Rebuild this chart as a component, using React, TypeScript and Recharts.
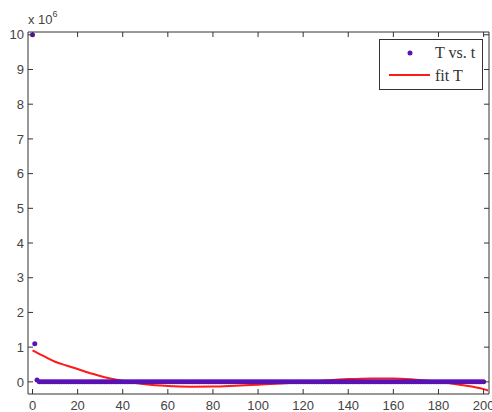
import React from "react";
import {
  ComposedChart, Scatter, Line, XAxis, YAxis, ReferenceArea, Legend,
} from "recharts";

// sample times
const sampleT = [
  0, 1, 2, 3, 4, 5, 6, 7, 8, 9, 10, 11, 12, 13, 14, 15, 16, 17, 18, 19,
  20, 21, 22, 23, 24, 25, 26, 27, 28, 29, 30, 31, 32, 33, 34, 35, 36, 37, 38, 39,
  40, 41, 42, 43, 44, 45, 46, 47, 48, 49, 50, 51, 52, 53, 54, 55, 56, 57, 58, 59,
  60, 61, 62, 63, 64, 65, 66, 67, 68, 69, 70, 71, 72, 73, 74, 75, 76, 77, 78, 79,
  80, 81, 82, 83, 84, 85, 86, 87, 88, 89, 90, 91, 92, 93, 94, 95, 96, 97, 98, 99,
  100, 101, 102, 103, 104, 105, 106, 107, 108, 109, 110, 111, 112, 113, 114, 115, 116, 117, 118, 119,
  120, 121, 122, 123, 124, 125, 126, 127, 128, 129, 130, 131, 132, 133, 134, 135, 136, 137, 138, 139,
  140, 141, 142, 143, 144, 145, 146, 147, 148, 149, 150, 151, 152, 153, 154, 155, 156, 157, 158, 159,
  160, 161, 162, 163, 164, 165, 166, 167, 168, 169, 170, 171, 172, 173, 174, 175, 176, 177, 178, 179,
  180, 181, 182, 183, 184, 185, 186, 187, 188, 189, 190, 191, 192, 193, 194, 195, 196, 197, 198, 199,
  200,
];

// measured T at each sample time
const measuredT = [
  10000000, 1100000, 50000, 0, 0, 0, 0, 0, 0, 0, 0, 0, 0, 0, 0, 0, 0, 0, 0, 0,
  0, 0, 0, 0, 0, 0, 0, 0, 0, 0, 0, 0, 0, 0, 0, 0, 0, 0, 0, 0,
  0, 0, 0, 0, 0, 0, 0, 0, 0, 0, 0, 0, 0, 0, 0, 0, 0, 0, 0, 0,
  0, 0, 0, 0, 0, 0, 0, 0, 0, 0, 0, 0, 0, 0, 0, 0, 0, 0, 0, 0,
  0, 0, 0, 0, 0, 0, 0, 0, 0, 0, 0, 0, 0, 0, 0, 0, 0, 0, 0, 0,
  0, 0, 0, 0, 0, 0, 0, 0, 0, 0, 0, 0, 0, 0, 0, 0, 0, 0, 0, 0,
  0, 0, 0, 0, 0, 0, 0, 0, 0, 0, 0, 0, 0, 0, 0, 0, 0, 0, 0, 0,
  0, 0, 0, 0, 0, 0, 0, 0, 0, 0, 0, 0, 0, 0, 0, 0, 0, 0, 0, 0,
  0, 0, 0, 0, 0, 0, 0, 0, 0, 0, 0, 0, 0, 0, 0, 0, 0, 0, 0, 0,
  0, 0, 0, 0, 0, 0, 0, 0, 0, 0, 0, 0, 0, 0, 0, 0, 0, 0, 0, 0,
  0,
];

// fitted curve
const fitTimes = [
  0, 5, 10, 15, 20, 25, 30, 35, 40, 50, 60, 70, 80, 90, 100, 110,
  120, 130, 140, 150, 160, 170, 180, 190, 200, 202,
];
const fitValues = [
  910000, 740000, 580000, 470000, 370000, 260000, 170000, 90000, 30000, -70000,
  -120000, -140000, -135000, -110000, -80000, -50000, -10000, 40000, 80000, 100000,
  100000, 60000, 0, -90000, -210000, -250000,
];

const xTicks = [0, 20, 40, 60, 80, 100, 120, 140, 160, 180, 200];
const yTicks = [0, 1e6, 2e6, 3e6, 4e6, 5e6, 6e6, 7e6, 8e6, 9e6, 1e7];

const X_DOMAIN: [number, number] = [-2, 202.4];
const Y_DOMAIN: [number, number] = [-350000, 10080000];

const W = 492;
const H = 412;
const MARGIN = { top: 32, right: 3, bottom: 0, left: 0 };
const Y_AXIS_W = 28;
const X_AXIS_H = 18;
const PLOT_TOP = MARGIN.top;
const PLOT_RIGHT = W - MARGIN.right;

const DOT = "#5a12b4";
const FIT = "#ff1a1a";
const INK = "#333";
const LABEL = "#444";
const TICK_LEN = 5;

const scatterData = sampleT.map((t, i) => ({ t, T: measuredT[i] }));
const fitData = fitTimes.map((t, i) => ({ t, fit: fitValues[i] }));

// bottom labels, with inward ticks on bottom and top edges
const XTick = (props: any) => {
  const { x, y, payload } = props;
  return (
    <g>
      <line x1={x} x2={x} y1={y} y2={y - TICK_LEN} stroke={INK} />
      <line x1={x} x2={x} y1={PLOT_TOP} y2={PLOT_TOP + TICK_LEN} stroke={INK} />
      <text x={x} y={y + 7} dy="0.71em" textAnchor="middle" fill={LABEL}
        fontSize={13} fontFamily="'Liberation Sans', Arial, sans-serif">
        {payload.value}
      </text>
    </g>
  );
};

// left labels (in millions), with inward ticks on left and right edges
const YTick = (props: any) => {
  const { x, y, payload } = props;
  const axisX = x + 4;
  return (
    <g>
      <line x1={axisX} x2={axisX + TICK_LEN} y1={y} y2={y} stroke={INK} />
      <line x1={PLOT_RIGHT - TICK_LEN} x2={PLOT_RIGHT} y1={y} y2={y} stroke={INK} />
      <text x={x} y={y} dy="0.36em" textAnchor="end" fill={LABEL}
        fontSize={13} fontFamily="'Liberation Sans', Arial, sans-serif">
        {payload.value / 1e6}
      </text>
    </g>
  );
};

const ScaleNote = (props: any) => {
  const { viewBox } = props;
  const x = viewBox.x + viewBox.width;
  const y = viewBox.y - 8;
  return (
    <text x={x} y={y} fill={LABEL} fontSize={13} fontFamily="'Liberation Sans', Arial, sans-serif">
      x 10
      <tspan dy={-7} fontSize={9}>6</tspan>
    </text>
  );
};

const dotShape = (props: any) => (
  <circle cx={props.cx} cy={props.cy} r={2.5} fill={DOT} />
);

const LegendBox = () => (
  <div
    style={{
      position: "relative", width: 104, height: 51, boxSizing: "border-box",
      border: `1px solid ${INK}`, background: "#fff",
      fontFamily: "'Liberation Serif', 'Times New Roman', serif", fontSize: 16, color: INK,
    }}
  >
    <svg width={54} height={49} style={{ position: "absolute", left: 0, top: 0 }}>
      <circle cx={30} cy={13} r={2.5} fill={DOT} />
      <line x1={9} x2={50} y1={35} y2={35} stroke={FIT} strokeWidth={2} />
    </svg>
    <span style={{ position: "absolute", left: 55, top: 3, lineHeight: "20px" }}>T vs. t</span>
    <span style={{ position: "absolute", left: 55, top: 26, lineHeight: "20px" }}>fit T</span>
  </div>
);

export default function App() {
  return (
    <div style={{ position: "absolute", left: 0, top: 0, width: W, height: H, background: "#fff" }}>
      <ComposedChart width={W} height={H} margin={MARGIN}>
        <XAxis
          dataKey="t" type="number" domain={X_DOMAIN} allowDataOverflow
          ticks={xTicks} interval={0} height={X_AXIS_H}
          axisLine={false} tickLine={false} tickSize={0} tickMargin={0} tick={XTick}
        />
        <YAxis
          type="number" domain={Y_DOMAIN} allowDataOverflow
          ticks={yTicks} interval={0} width={Y_AXIS_W}
          axisLine={false} tickLine={false} tickSize={0} tickMargin={4} tick={YTick}
          label={<ScaleNote />}
        />
        <ReferenceArea
          x1={X_DOMAIN[0]} x2={X_DOMAIN[1]} y1={Y_DOMAIN[0]} y2={Y_DOMAIN[1]}
          fill="none" fillOpacity={0} stroke={INK} strokeWidth={1}
        />
        <Scatter name="T vs. t" data={scatterData} dataKey="T" fill={DOT}
          shape={dotShape} isAnimationActive={false} />
        <Line name="fit T" data={fitData} dataKey="fit" type="monotone" stroke={FIT}
          strokeWidth={2} dot={false} activeDot={false} isAnimationActive={false} />
        <Legend
          layout="vertical" align="center" verticalAlign="middle"
          wrapperStyle={{ position: "absolute", left: 379, top: 39, width: 104, height: 51 }}
          content={<LegendBox />}
        />
      </ComposedChart>
    </div>
  );
}
